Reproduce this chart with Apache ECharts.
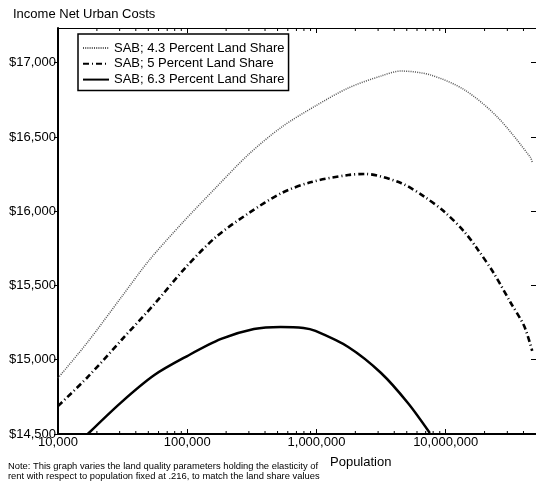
<!DOCTYPE html>
<html>
<head>
<meta charset="utf-8">
<script src="https://cdn.jsdelivr.net/npm/echarts@6/dist/echarts.min.js"></script>
<style>
  html, body { margin: 0; padding: 0; background: #fff; }
  #chart { width: 536px; height: 485px; }
</style>
</head>
<body>
<div id="chart"></div>
<script>
// series names
const names = ["SAB; 4.3 Percent Land Share", "SAB; 5 Percent Land Share", "SAB; 6.3 Percent Land Share"];

// 4.3 percent land share (dotted)
const popA = [10000, 17000, 31000, 51000, 91500, 167000, 300000, 538000, 982000, 1762000, 3162000, 4508000, 7670000, 14000000, 25100000, 45100000, 46700000];
const incA = [14877, 15120, 15423, 15672, 15921, 16160, 16385, 16567, 16709, 16830, 16911, 16944, 16917, 16817, 16635, 16365, 16332];

// 5 percent land share (dash-dot)
const popB = [10000, 17000, 31000, 55700, 98000, 167000, 300000, 538000, 916000, 1762000, 2382000, 4508000, 6890000, 9820000, 14000000, 17600000, 23800000, 31600000, 40500000, 46700000];
const incB = [14688, 14884, 15133, 15375, 15625, 15827, 15988, 16123, 16197, 16244, 16251, 16190, 16096, 15995, 15860, 15746, 15577, 15389, 15227, 15060];

// 6.3 percent land share (solid)
const popC = [17000, 31000, 55700, 100000, 183000, 328000, 528000, 794000, 982000, 1762000, 3162000, 5102000, 7540000];
const incC = [14500, 14715, 14897, 15025, 15140, 15207, 15221, 15214, 15194, 15086, 14911, 14709, 14507];

// axes
const xMin = 10000, xMax = 50000000;
const yMin = 14500, yMax = 17234, yStep = 500;
const minorTicks = [20000, 30000, 40000, 50000, 60000, 70000, 80000, 90000,
  200000, 300000, 400000, 500000, 600000, 700000, 800000, 900000,
  2000000, 3000000, 4000000, 5000000, 6000000, 7000000, 8000000, 9000000,
  20000000, 30000000, 40000000];

const font = "Liberation Sans, Arial, sans-serif";
const chart = echarts.init(document.getElementById("chart"));

const pairs = (xs, ys) => xs.map((x, i) => [x, ys[i]]);

const option = {
  animation: false,
  color: ["#000", "#000", "#000"],
  grid: { left: 58, top: 28, width: 481, height: 406, containLabel: false },
  legend: {
    data: names,
    orient: "vertical",
    left: 78,
    top: 34,
    padding: [7, 4, 4, 4],
    itemWidth: 26,
    itemHeight: 14,
    itemGap: 1.8,
    borderColor: "#000",
    borderWidth: 1.5,
    borderRadius: 0,
    backgroundColor: "#fff",
    itemStyle: { opacity: 0 },
    textStyle: { color: "#000", fontSize: 13, fontFamily: font, lineHeight: 14 }
  },
  xAxis: [
    {
      type: "log",
      logBase: 10,
      min: xMin,
      max: xMax,
      axisLine: { lineStyle: { color: "#000", width: 2 } },
      axisTick: { inside: true, length: 5, lineStyle: { color: "#000" } },
      splitLine: { show: false },
      axisLabel: {
        color: "#000",
        fontSize: 13,
        fontFamily: font,
        margin: 2,
        showMaxLabel: false,
        formatter: (v) => Math.round(v).toLocaleString("en-US")
      }
    },
    {
      type: "log",
      logBase: 10,
      position: "top",
      min: xMin,
      max: xMax,
      axisLine: { lineStyle: { color: "#000", width: 1 } },
      axisTick: { inside: true, length: 5, lineStyle: { color: "#000" } },
      axisLabel: { show: false },
      splitLine: { show: false }
    }
  ],
  yAxis: [
    {
      type: "value",
      min: yMin,
      max: yMax,
      interval: yStep,
      axisLine: { show: true, lineStyle: { color: "#000", width: 2 } },
      axisTick: { show: true, length: 4, lineStyle: { color: "#000" } },
      splitLine: { show: false },
      axisLabel: {
        color: "#000",
        fontSize: 13,
        fontFamily: font,
        margin: 2,
        showMaxLabel: false,
        formatter: (v) => "$" + v.toLocaleString("en-US")
      }
    },
    {
      type: "value",
      position: "right",
      min: yMin,
      max: yMax,
      interval: yStep,
      axisLine: { show: true, lineStyle: { color: "#000", width: 1 } },
      axisTick: { show: true, inside: true, length: 5, lineStyle: { color: "#000" } },
      axisLabel: { show: false },
      splitLine: { show: false }
    }
  ],
  series: [
    {
      name: names[0],
      type: "line",
      data: pairs(popA, incA),
      smooth: 0.3,
      symbol: "none",
      lineStyle: { color: "#555", width: 1.5, type: [1, 1.2] }
    },
    {
      name: names[1],
      type: "line",
      data: pairs(popB, incB),
      smooth: 0.3,
      symbol: "none",
      lineStyle: { color: "#000", width: 2.6, type: [6, 3, 1, 3] }
    },
    {
      name: names[2],
      type: "line",
      data: pairs(popC, incC),
      smooth: 0.3,
      symbol: "none",
      lineStyle: { color: "#000", width: 2.5 }
    },
    {
      // minor ticks of the log axis, top and bottom
      type: "custom",
      silent: true,
      data: minorTicks.map((v) => [v, yMin]),
      renderItem: (params, api) => {
        const b = api.coord([api.value(0), yMin]);
        const t = api.coord([api.value(0), yMax]);
        return {
          type: "group",
          children: [
            { type: "line", shape: { x1: b[0], y1: b[1], x2: b[0], y2: b[1] - 3 }, style: { stroke: "#000", lineWidth: 1 } },
            { type: "line", shape: { x1: t[0], y1: t[1], x2: t[0], y2: t[1] + 3 }, style: { stroke: "#000", lineWidth: 1 } }
          ]
        };
      }
    }
  ],
  graphic: [
    { type: "text", left: 13, top: 8, style: { text: "Income Net Urban Costs", fill: "#000", font: "13px " + font } },
    { type: "text", left: 330, top: 456, style: { text: "Population", fill: "#000", font: "13px " + font } },
    { type: "text", left: 8, top: 461, style: { text: "Note: This graph varies the land quality parameters holding the elasticity of\nrent with respect to population fixed at .216, to match the land share values", fill: "#000", font: "9.4px " + font, lineHeight: 10 } }
  ]
};

chart.setOption(option);
</script>
</body>
</html>
